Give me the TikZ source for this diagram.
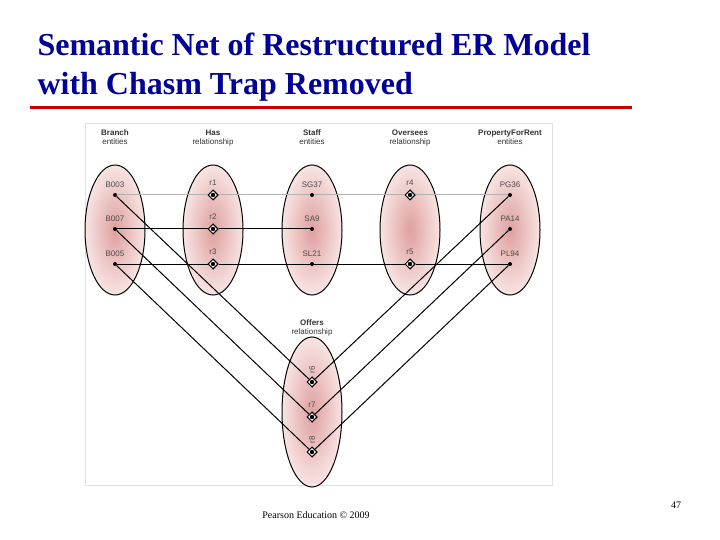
\documentclass[tikz,border=0pt]{standalone}
\usepackage{fontspec}
\setmainfont{Liberation Serif}
\newfontfamily\lab{Liberation Sans}
\usetikzlibrary{shapes.geometric}
\definecolor{titleblue}{RGB}{0,0,150}
\definecolor{ulred}{RGB}{200,0,0}
\definecolor{pinkin}{RGB}{222,160,160}
\definecolor{pinkout}{RGB}{248,228,226}
\tikzset{
  set/.style={ellipse,draw,line width=1pt,minimum width=60pt,minimum height=130pt,inner color=pinkin,outer color=pinkout},
  ent/.style={circle,fill=black,inner sep=0pt,minimum size=4pt},
  rel/.style={diamond,draw,line width=1pt,fill=white,inner sep=0pt,minimum size=10pt},
  lbl/.style={font=\lab\fontsize{8}{9}\selectfont,text=black!70},
  hdr/.style={font=\lab\fontsize{8}{9.5}\selectfont,align=center,text=black!80,text depth=0pt},
  ln/.style={line width=1pt},
}
\begin{document}
\begin{tikzpicture}[x=1pt,y=-1pt]
\useasboundingbox (0,0) rectangle (720,540);
\node[anchor=west,font=\bfseries\fontsize{32}{39}\selectfont,text=titleblue,align=left] (title) at (34,67) {Semantic Net of Restructured ER Model\\with Chasm Trap Removed};
\draw[ulred,line width=3pt] (30,108) -- (632,108);
\node[draw=black!12,fill=white,minimum width=467pt,minimum height=362pt,inner sep=0pt] (panel) at (318.5,304) {};
% headers
\node[hdr] (h1) at (115,137) {\textbf{Branch}\\entities};
\node[hdr] (h2) at (213,137) {\textbf{Has}\\relationship};
\node[hdr] (h3) at (312,137) {\textbf{Staff}\\entities};
\node[hdr] (h4) at (410,137) {\textbf{Oversees}\\relationship};
\node[hdr] (h5) at (510,137) {\textbf{PropertyForRent}\\entities};
\node[hdr] (h6) at (312,327) {\textbf{Offers}\\relationship};
% ellipses
\foreach \x/\n in {115/e1,213/e2,312/e3,410/e4,510/e5} \node[set] (\n) at (\x,230) {};
\node[set,minimum height=150pt] (e6) at (312,412) {};
% nodes
\foreach \y/\a/\b/\c/\e in {195/B003/r1/SG37/PG36, 229/B007/r2/SA9/PA14, 264/B005/r3/SL21/PL94}{
  \node[ent] (\a) at (115,\y) {}; \node[lbl] at (115,\y-10) {\a};
  \node[rel] (\b) at (213,\y) {}; \node[lbl] at (213,\y-12) {\b};
  \node[ent] (\c) at (312,\y) {}; \node[lbl] at (312,\y-10) {\c};
  \node[ent] (\e) at (510,\y) {}; \node[lbl] at (510,\y-10) {\e};
}
\node[rel] (r4) at (410,195) {}; \node[lbl] at (410,183) {r4};
\node[rel] (r5) at (410,264) {}; \node[lbl] at (410,252) {r5};
\node[rel] (r6) at (312,382) {}; \node[lbl,rotate=90] at (312,370) {r6};
\node[rel] (r7) at (312,417) {}; \node[lbl] at (312,405) {r7};
\node[rel] (r8) at (312,452) {}; \node[lbl,rotate=90] at (312,440) {r8};
% connectors
\draw[ln,black!30] (B003) -- (r1) -- (SG37) -- (r4) -- (PG36);
\draw[ln] (B007) -- (r2) -- (SA9);
\draw[ln] (B005) -- (r3) -- (SL21) -- (r5) -- (PL94);
\draw[ln] (B003) -- (r6) -- (PG36);
\draw[ln] (B007) -- (r7) -- (PA14);
\draw[ln] (B005) -- (r8) -- (PL94);
% markers on top
\foreach \x/\y in {213/195,213/229,213/264,410/195,410/264,312/382,312/417,312/452}{
  \node[rel] at (\x,\y) {};
  \fill (\x,\y) circle (2.2pt);
}
\node[font=\fontsize{10}{12}\selectfont] (foot) at (316,515) {Pearson Education © 2009};
\node[font=\fontsize{10}{12}\selectfont] (pg) at (676,505) {47};
\end{tikzpicture}
\end{document}
